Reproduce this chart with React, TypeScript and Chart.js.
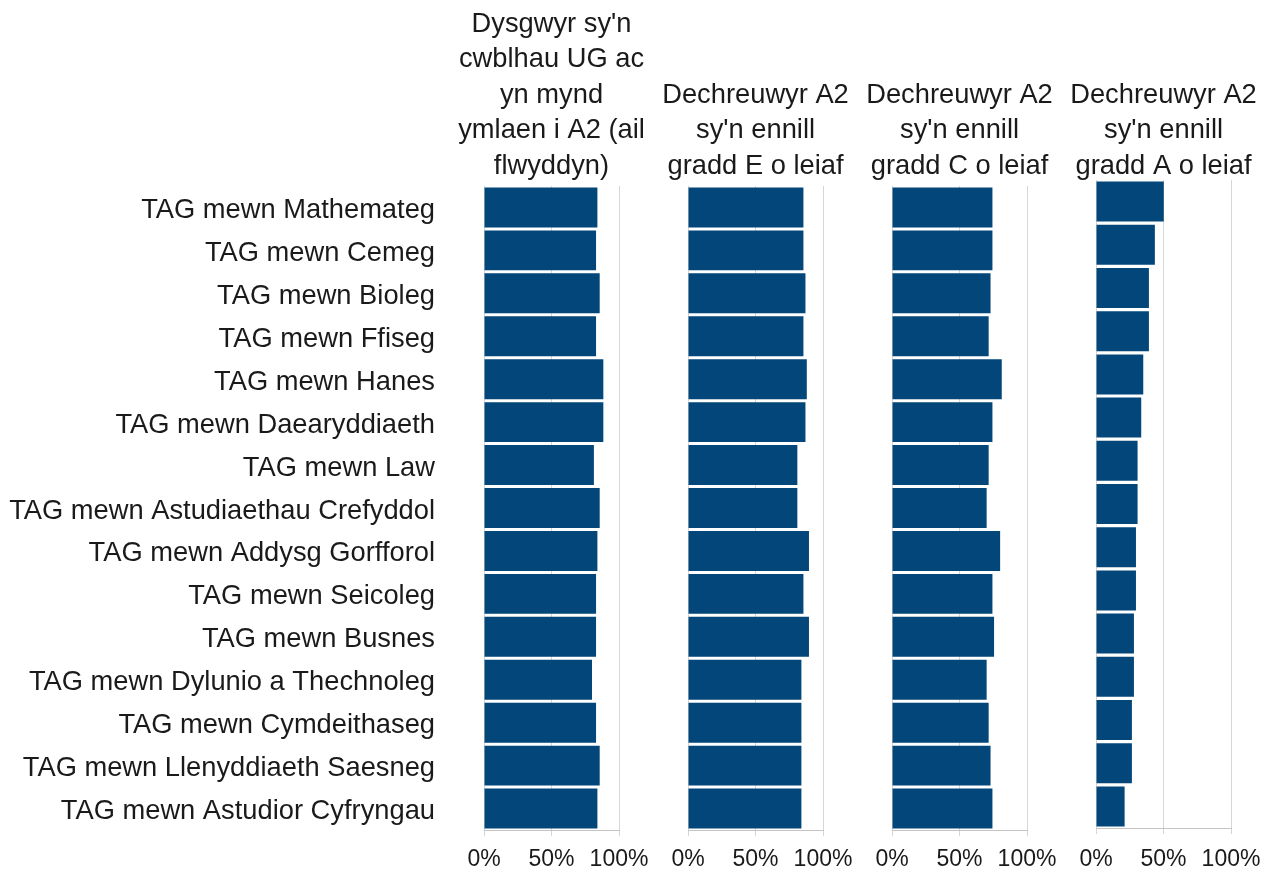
import React, { useEffect, useRef } from "react";
import { Chart, registerables } from "chart.js";

Chart.register(...registerables);

const categories = [
  "TAG mewn Mathemateg",
  "TAG mewn Cemeg",
  "TAG mewn Bioleg",
  "TAG mewn Ffiseg",
  "TAG mewn Hanes",
  "TAG mewn Daearyddiaeth",
  "TAG mewn Law",
  "TAG mewn Astudiaethau Crefyddol",
  "TAG mewn Addysg Gorfforol",
  "TAG mewn Seicoleg",
  "TAG mewn Busnes",
  "TAG mewn Dylunio a Thechnoleg",
  "TAG mewn Cymdeithaseg",
  "TAG mewn Llenyddiaeth Saesneg",
  "TAG mewn Astudior Cyfryngau",
];

const progressedToA2 = [84, 83, 85.7, 83, 88.4, 88.4, 81.4, 85.7, 84, 83, 83, 80, 83, 85.7, 84];
const gradeEOrAbove = [85.5, 85.5, 87, 85.5, 88, 87, 81, 81, 89.6, 85.5, 89.6, 84, 84, 84, 84];
const gradeCOrAbove = [74.4, 74.4, 73, 71.6, 81.3, 74.4, 71.6, 70.1, 80.1, 74.4, 75.6, 70.1, 71.6, 73, 74.4];
const gradeAOrAbove = [50.2, 43.6, 39.2, 39.2, 35, 33.5, 30.8, 30.8, 29.6, 29.6, 28.1, 28.1, 26.6, 26.6, 21.2];

const titleProgressed = ["Dysgwyr sy'n", "cwblhau UG ac", "yn mynd", "ymlaen i A2 (ail", "flwyddyn)"];
const titleGradeE = ["Dechreuwyr A2", "sy'n ennill", "gradd E o leiaf"];
const titleGradeC = ["Dechreuwyr A2", "sy'n ennill", "gradd C o leiaf"];
const titleGradeA = ["Dechreuwyr A2", "sy'n ennill", "gradd A o leiaf"];

const xTickValues = [0, 50, 100];

const FONT = '"Liberation Sans", Arial, Helvetica, sans-serif';
const BAR_COLOR = "#02467a";
const TEXT_COLOR = "#1a1a1a";
const GRID_COLOR = "#d6d6d6";

const titlePlugin = {
  id: "panelTitle",
  afterDraw(chart: any, _args: any, opts: any) {
    const { ctx, chartArea } = chart;
    const lines: string[] = opts.lines || [];
    ctx.save();
    ctx.font = `${opts.size}px ${FONT}`;
    ctx.fillStyle = opts.color;
    ctx.textAlign = "center";
    ctx.textBaseline = "alphabetic";
    const cx = (chartArea.left + chartArea.right) / 2;
    lines.forEach((l, i) => {
      const y = opts.lastBaseline - (lines.length - 1 - i) * opts.lineGap;
      ctx.fillText(l, cx, y);
    });
    ctx.restore();
  },
};

type PanelProps = {
  values: number[];
  title: string[];
  left: number;
  width: number;
  padLeft: number;
  padRight: number;
  padTop: number;
  axisHeight: number;
  tickPad: number;
  showLabels: boolean;
  barPct: number;
};

function Panel(p: PanelProps) {
  const ref = useRef<HTMLCanvasElement | null>(null);
  useEffect(() => {
    if (!ref.current) return;
    const chart = new Chart(ref.current, {
      type: "bar",
      data: {
        labels: categories,
        datasets: [
          {
            data: p.values,
            backgroundColor: BAR_COLOR,
            borderWidth: 0,
            barPercentage: p.barPct,
            categoryPercentage: 1,
          },
        ],
      },
      plugins: [titlePlugin as any],
      options: {
        indexAxis: "y",
        responsive: false,
        animation: false,
        events: [],
        layout: {
          padding: { top: p.padTop, bottom: 0, left: p.padLeft, right: p.padRight },
        },
        plugins: {
          legend: { display: false },
          tooltip: { enabled: false },
          title: { display: false },
          panelTitle: {
            lines: p.title,
            size: 27.3,
            color: TEXT_COLOR,
            lastBaseline: 173.5,
            lineGap: 35.5,
          },
        } as any,
        scales: {
          x: {
            type: "linear",
            min: 0,
            max: 100,
            afterBuildTicks: (s: any) => {
              s.ticks = xTickValues.map((v) => ({ value: v }));
            },
            afterFit: (s: any) => {
              s.height = p.axisHeight;
            },
            ticks: {
              autoSkip: false,
              maxRotation: 0,
              padding: p.tickPad,
              color: TEXT_COLOR,
              font: { family: FONT, size: 23 },
              callback: (v: any) => `${v}%`,
            },
            grid: {
              color: GRID_COLOR,
              lineWidth: 1,
              drawTicks: true,
              tickLength: 6,
            },
            border: { display: true, color: "#c4c4c4" },
          },
          y: {
            type: "category",
            display: p.showLabels,
            afterFit: (s: any) => {
              if (p.showLabels) s.width = 484;
            },
            ticks: {
              autoSkip: false,
              padding: 3,
              labelOffset: 3,
              color: TEXT_COLOR,
              font: { family: FONT, size: 27.3 },
            },
            grid: { display: false, drawTicks: true, tickLength: 46 },
            border: { display: false },
          },
        },
      } as any,
    });
    return () => chart.destroy();
  }, []);
  return (
    <canvas
      ref={ref}
      width={p.width}
      height={870}
      style={{ position: "absolute", left: p.left, top: 0, width: p.width, height: 870 }}
    />
  );
}

export default function App() {
  return (
    <div
      style={{
        position: "fixed",
        left: 0,
        top: 0,
        width: 1267,
        height: 870,
        overflow: "hidden",
        background: "#ffffff",
      }}
    >
      <Panel values={progressedToA2} title={titleProgressed} left={0} width={665} padLeft={0} padRight={46} padTop={186} axisHeight={40} tickPad={10} showLabels={true} barPct={0.93} />
      <Panel values={gradeEOrAbove} title={titleGradeE} left={630} width={240} padLeft={58} padRight={47} padTop={186} axisHeight={40} tickPad={10} showLabels={false} barPct={0.93} />
      <Panel values={gradeCOrAbove} title={titleGradeC} left={834} width={240} padLeft={58} padRight={47} padTop={186} axisHeight={40} tickPad={10} showLabels={false} barPct={0.93} />
      <Panel values={gradeAOrAbove} title={titleGradeA} left={1038} width={240} padLeft={58} padRight={47} padTop={180} axisHeight={42} tickPad={12} showLabels={false} barPct={0.925} />
    </div>
  );
}
